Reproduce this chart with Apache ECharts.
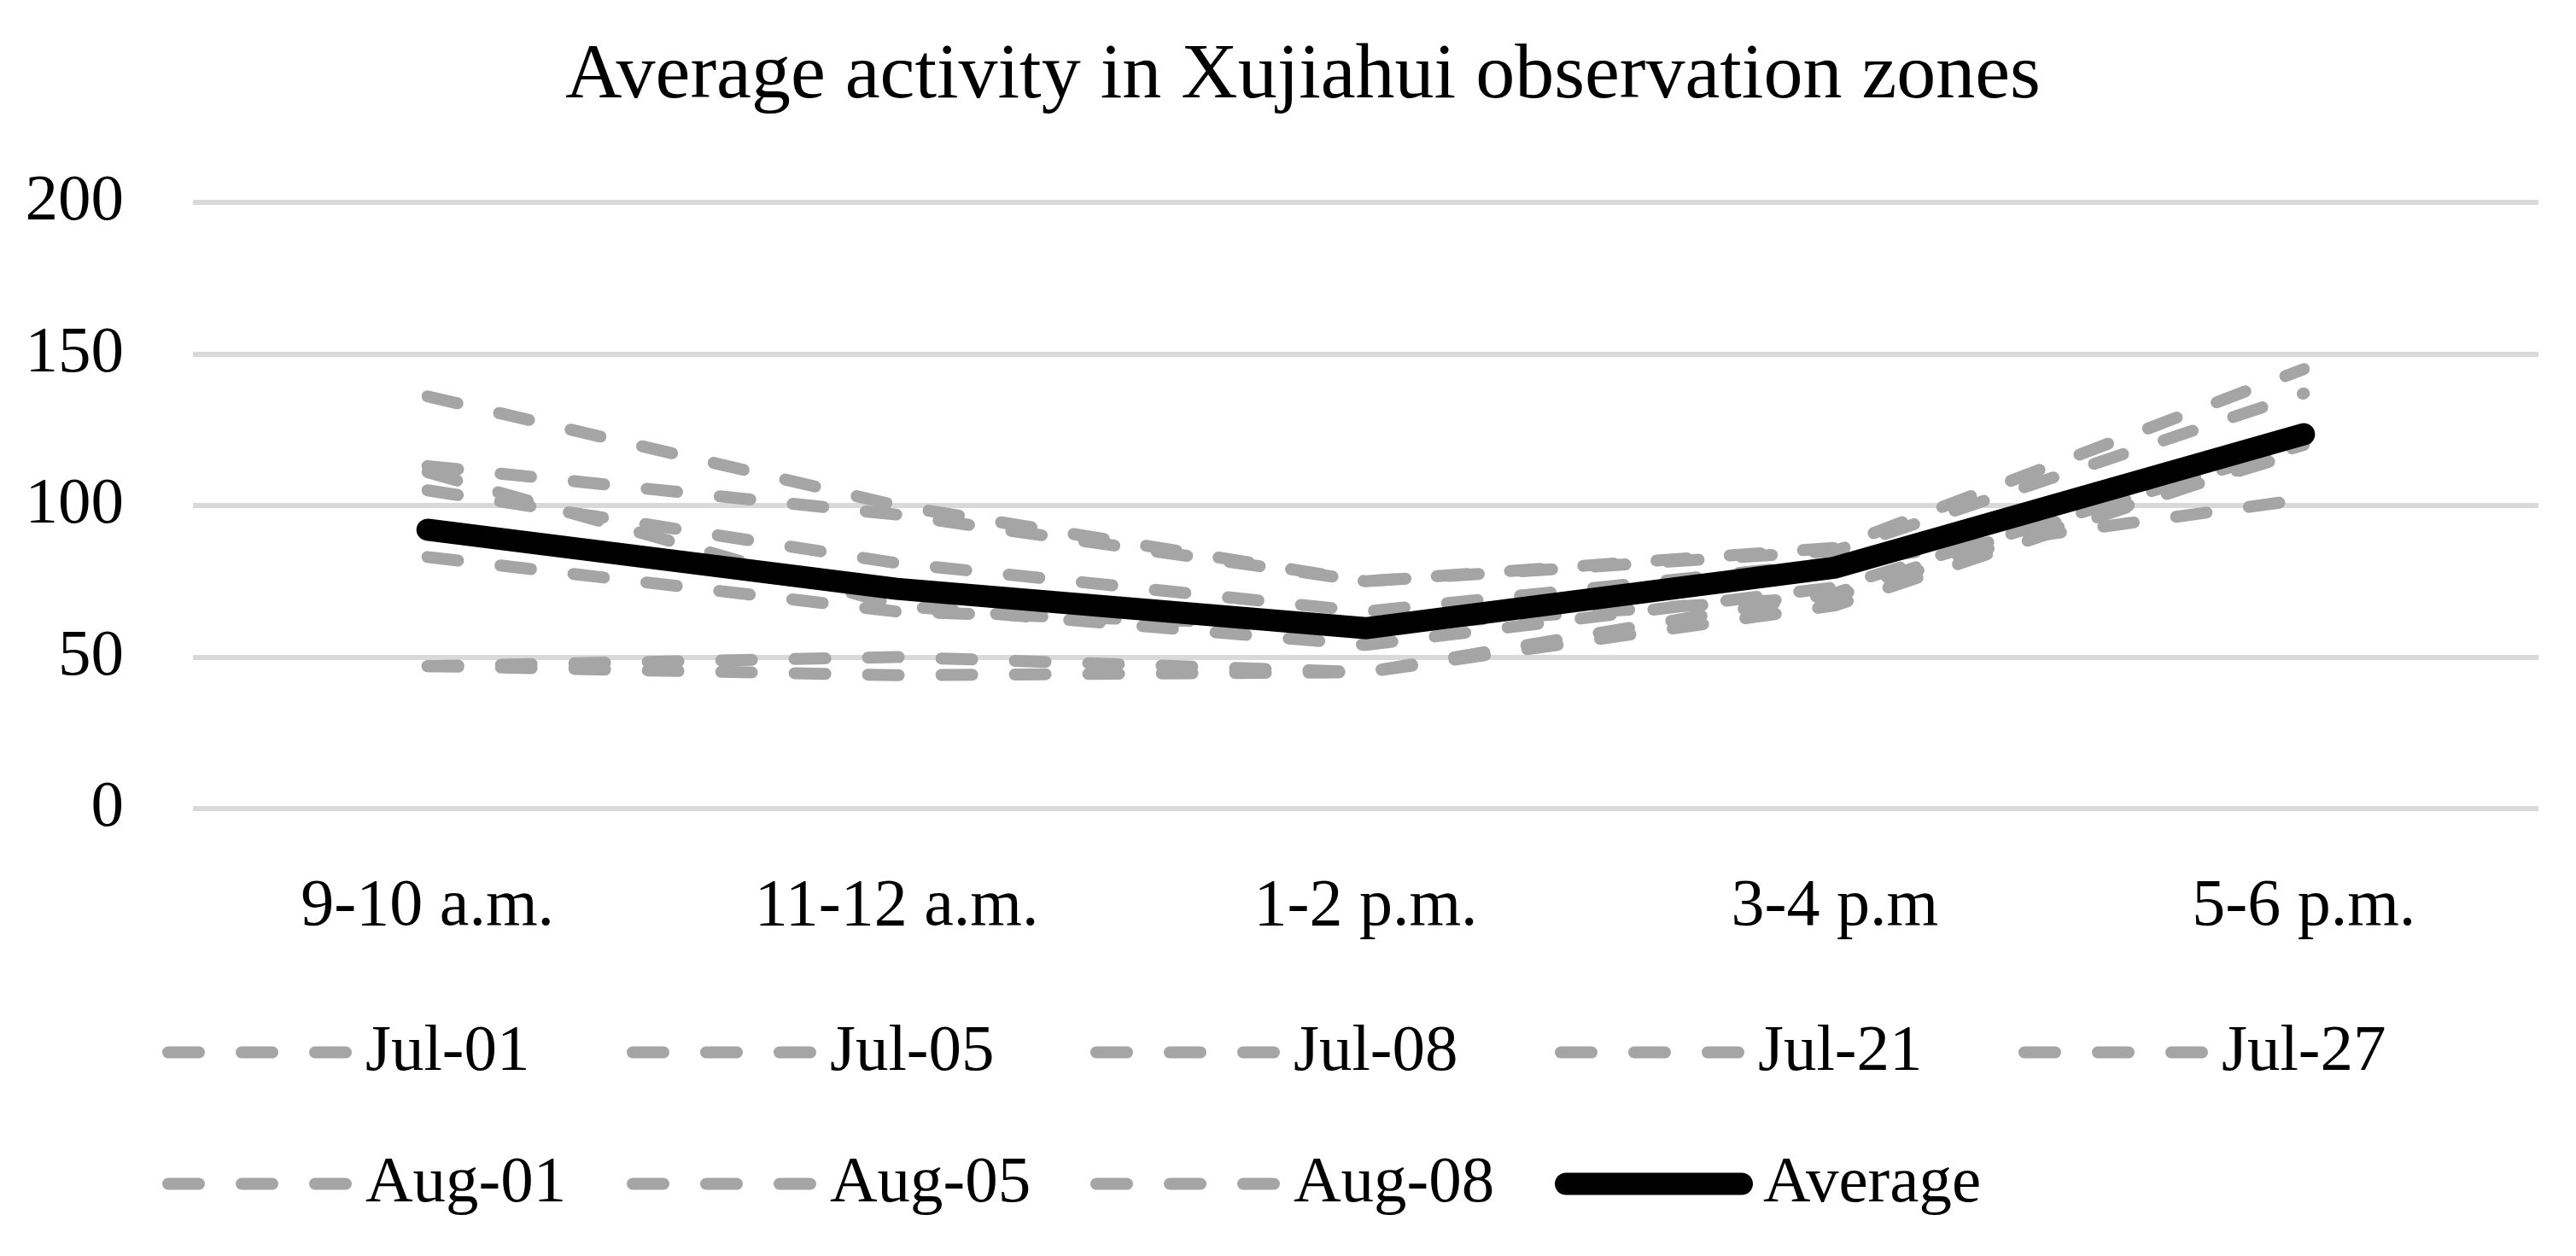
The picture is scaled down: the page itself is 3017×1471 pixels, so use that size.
<!DOCTYPE html>
<html><head><meta charset="utf-8">
<script src="https://cdn.jsdelivr.net/npm/echarts@6/dist/echarts.min.js"></script>
<style>html,body{margin:0;padding:0;background:#fff}#c{width:3017px;height:1471px}</style>
</head><body><div id="c"></div>
<script>
const titleText = 'Average activity in Xujiahui observation zones';
const categories = ['9-10 a.m.', '11-12 a.m.', '1-2 p.m.', '3-4 p.m', '5-6 p.m.'];
const yMin = 0, yMax = 200, yStep = 50;
const seriesNames = ['Jul-01', 'Jul-05', 'Jul-08', 'Jul-21', 'Jul-27', 'Aug-01', 'Aug-05', 'Aug-08'];
const jul01 = [136, 100, 75, 86, 145];
const jul05 = [113, 97, 75, 85, 137];
const jul08 = [105, 81, 65, 81, 102];
const jul21 = [111, 67, 54, 73, 120];
const jul27 = [83, 65, 60, 70, 118];
const aug01 = [47, 50, 45, 71, 121];
const aug05 = [47, 44, 45, 67, 119];
const aug08 = [92, 72, 60, 79, 123];
const average = [92, 72.5, 59.5, 79.5, 123.5];
const dailyValues = [jul01, jul05, jul08, jul21, jul27, aug01, aug05, aug08];

const FONT = '"Liberation Serif", "Times New Roman", serif';
const GRAY = '#A5A5A5';
const dash = [36, 50];
const TITLE_SIZE = 92;

const chart = echarts.init(document.getElementById('c'), null, {renderer: 'canvas', devicePixelRatio: 1});

const cv = document.createElement('canvas').getContext('2d');
cv.font = TITLE_SIZE + 'px ' + FONT;
const tw = cv.measureText(titleText).width;

const series = dailyValues.map((vals, i) => ({
  name: seriesNames[i],
  type: 'line',
  data: vals,
  symbol: 'none',
  lineStyle: {color: GRAY, width: 14, type: dash, cap: 'round', join: 'round'},
  itemStyle: {color: GRAY},
  emphasis: {disabled: true},
  animation: false,
  z: 2
}));
series.push({
  name: 'Average',
  type: 'line',
  data: average,
  symbol: 'none',
  lineStyle: {color: '#000', width: 26, type: 'solid', cap: 'round', join: 'miter'},
  itemStyle: {color: '#000'},
  emphasis: {disabled: true},
  animation: false,
  z: 3
});

// one legend box per entry so the entries sit on a regular grid, as in the reference
const legendNames = seriesNames.concat(['Average']);
const legends = legendNames.map((n, i) => {
  const row = i < 5 ? 0 : 1;
  const col = i < 5 ? i : i - 5;
  const isAvg = n === 'Average';
  return {
    orient: 'horizontal',
    padding: 0,
    itemGap: 0,
    itemWidth: 226,
    itemHeight: 26,
    itemStyle: {opacity: 0},
    selectedMode: false,
    left: Math.round(190 + col * 543.5),
    top: row === 0 ? 1194 : 1348,
    textStyle: {fontFamily: FONT, fontSize: 77, color: '#000'},
    data: [{
      name: n,
      lineStyle: isAvg
        ? {color: '#000', width: 26, type: [206, 1000], cap: 'round'}
        : {color: GRAY, width: 14, type: dash, cap: 'round'}
    }]
  };
});

const option = {
  backgroundColor: '#fff',
  animation: false,
  title: {
    text: titleText,
    left: Math.round(1526 - tw / 2),
    top: 44,
    padding: 0,
    textStyle: {fontFamily: FONT, fontSize: TITLE_SIZE, fontWeight: 'normal', color: '#000'}
  },
  grid: {left: 226, right: 44, top: 237, bottom: 524, containLabel: false},
  legend: legends,
  xAxis: {
    type: 'category',
    data: categories,
    boundaryGap: true,
    axisLine: {show: false},
    axisTick: {show: false},
    axisLabel: {fontFamily: FONT, fontSize: 78, color: '#000', margin: 77, interval: 0}
  },
  yAxis: {
    type: 'value',
    min: yMin, max: yMax, interval: yStep,
    axisLine: {show: false},
    axisTick: {show: false},
    axisLabel: {fontFamily: FONT, fontSize: 77, color: '#000', margin: 81},
    splitLine: {show: true, lineStyle: {color: '#D9D9D9', width: 6}}
  },
  series: series
};
chart.setOption(option);
</script>
</body></html>
